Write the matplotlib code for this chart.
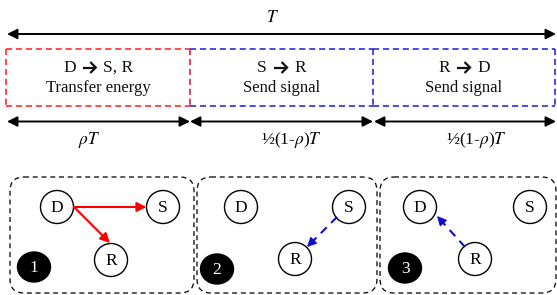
import matplotlib
matplotlib.use("Agg")
import matplotlib.pyplot as plt
from matplotlib.patches import Circle, Ellipse, FancyBboxPatch
import numpy as np

plt.rcParams['mathtext.fontset'] = 'stix'
SERIF = ['Liberation Serif', 'DejaVu Serif']

# ---- data ----
total_label = r'$T$'
phase_sources = ['D', 'S', 'R']
phase_targets = ['S, R', 'R', 'D']
phase_subtitles = ['Transfer energy', 'Send signal', 'Send signal']
phase_colors = ['#ff1a1a', '#1a1adc', '#1a1adc']
duration_labels = [r'$\rho T$', '\u00bd(1-$\\rho$)$T$', '\u00bd(1-$\\rho$)$T$']
step_numbers = ['1', '2', '3']
node_names = ['D', 'S', 'R']

fig = plt.figure(figsize=(5.57, 2.95), dpi=100)
ax = fig.add_axes([0, 0, 1, 1])
ax.set_xlim(0, 557)
ax.set_ylim(295, 0)
ax.axis('off')
renderer = fig.canvas.get_renderer()

def dbl_arrow(x0, x1, y):
    ax.annotate('', xy=(x1, y), xytext=(x0, y),
                arrowprops=dict(arrowstyle='<|-|>', color='black', lw=1.4,
                                mutation_scale=15, shrinkA=0, shrinkB=0))

# top total arrow
dbl_arrow(7, 556, 34)
ax.text(272, 17, total_label, ha='center', va='center', fontsize=12.5, color='black')

# phase boxes
xs = [6, 190, 373, 555]
ytop, ybot = 49, 105.5
for i in range(3):
    c = phase_colors[i]
    x0, x1 = xs[i], xs[i + 1]
    ax.plot([x0, x1], [ytop, ytop], color=c, lw=1.1, ls=(0, (4, 2.5)))
    ax.plot([x0, x1], [ybot, ybot], color=c, lw=1.1, ls=(0, (4, 2.5)))
    cx = (x0 + x1) / 2
    # title: source  ->  target, arrow drawn as a bold chevron arrow
    tl = ax.text(0, 68, phase_sources[i], ha='left', va='center', fontsize=12.5,
                 family=SERIF, color='#111111')
    tr = ax.text(0, 68, phase_targets[i], ha='left', va='center', fontsize=12.5,
                 family=SERIF, color='#111111')
    wl = tl.get_window_extent(renderer).width
    wr = tr.get_window_extent(renderer).width
    wa, g = 13, 7
    start = cx - (wl + g + wa + g + wr) / 2
    tl.set_x(start)
    a0 = start + wl + g
    a1 = a0 + wa
    tr.set_x(a1 + g)
    ya = 67.5
    ax.plot([a0, a1 - 1], [ya, ya], color='#111111', lw=1.6, solid_capstyle='butt')
    ax.plot([a1 - 5.5, a1, a1 - 5.5], [ya - 5.5, ya, ya + 5.5], color='#111111',
            lw=1.6, solid_joinstyle='miter', solid_capstyle='butt')
    ax.text(cx, 88, phase_subtitles[i], ha='center', va='center', fontsize=12,
            family=SERIF, color='#111111')
# vertical edges
edge_colors = ['#ff1a1a', '#d0103a', '#1a1adc', '#1a1adc']
for x, c in zip(xs, edge_colors):
    ax.plot([x, x], [ytop, ybot], color=c, lw=1.1, ls=(0, (4, 2.5)))

# duration arrows
ax_ends = [(7, 190), (190, 373), (374, 556)]
label_x = [89, 291, 476]
for (a, b), lab, lx in zip(ax_ends, duration_labels, label_x):
    dbl_arrow(a, b, 121.5)
    ax.text(lx, 140, lab, ha='center', va='center', fontsize=12.5, family=SERIF)

# bottom panels
panels = [(10, 194), (197, 377), (380, 556)]
ptop, pbot = 177, 293
for (a, b) in panels:
    p = FancyBboxPatch((a, ptop), b - a, pbot - ptop,
                       boxstyle='round,pad=0,rounding_size=14',
                       fill=False, ec='black', lw=0.9, ls=(0, (4, 3)))
    ax.add_patch(p)

node_pos = [
    {'D': (57, 207), 'S': (163, 207), 'R': (111, 260)},
    {'D': (241, 207), 'S': (349, 207), 'R': (295, 259)},
    {'D': (420, 207), 'S': (530, 207), 'R': (475, 259)},
]
badge_pos = [(34, 267), (217, 269), (405, 268)]
r = 16.5
for k in range(3):
    for n in node_names:
        x, y = node_pos[k][n]
        ax.add_patch(Circle((x, y), r, fill=True, fc='white', ec='black', lw=1.0, zorder=3))
        ax.text(x, y + 1, n, ha='center', va='center', fontsize=12.5, family=SERIF, zorder=4)
    bx, by = badge_pos[k]
    ax.add_patch(Ellipse((bx, by), 33, 30, fc='black', ec='black', zorder=3))
    ax.text(bx, by + 1, step_numbers[k], ha='center', va='center', fontsize=12.5,
            family=SERIF, color='white', zorder=4)

# arrows in panels
def solid_arrow(p0, p1, c):
    ax.annotate('', xy=p1, xytext=p0,
                arrowprops=dict(arrowstyle='-|>', color=c, lw=1.5,
                                mutation_scale=14, shrinkA=0, shrinkB=0), zorder=5)

def dashed_arrow(p0, p1, c):
    p0 = np.array(p0, float); p1 = np.array(p1, float)
    d = p1 - p0
    L = np.hypot(*d)
    u = d / L
    mid = p1 - u * 9
    ax.plot([p0[0], mid[0]], [p0[1], mid[1]], color=c, lw=1.5, ls=(0, (4, 3)), zorder=5)
    ax.annotate('', xy=tuple(p1), xytext=tuple(p1 - u * 10),
                arrowprops=dict(arrowstyle='-|>', color=c, lw=1.0,
                                mutation_scale=14, shrinkA=0, shrinkB=0), zorder=5)

solid_arrow((74, 207), (146.5, 207), '#ff0000')
solid_arrow((74, 207), (110, 243), '#ff0000')
dashed_arrow((337, 217), (307, 247), '#1010cc')
dashed_arrow((465, 247), (437, 216), '#1010cc')

fig.savefig('out.png', dpi=100)
